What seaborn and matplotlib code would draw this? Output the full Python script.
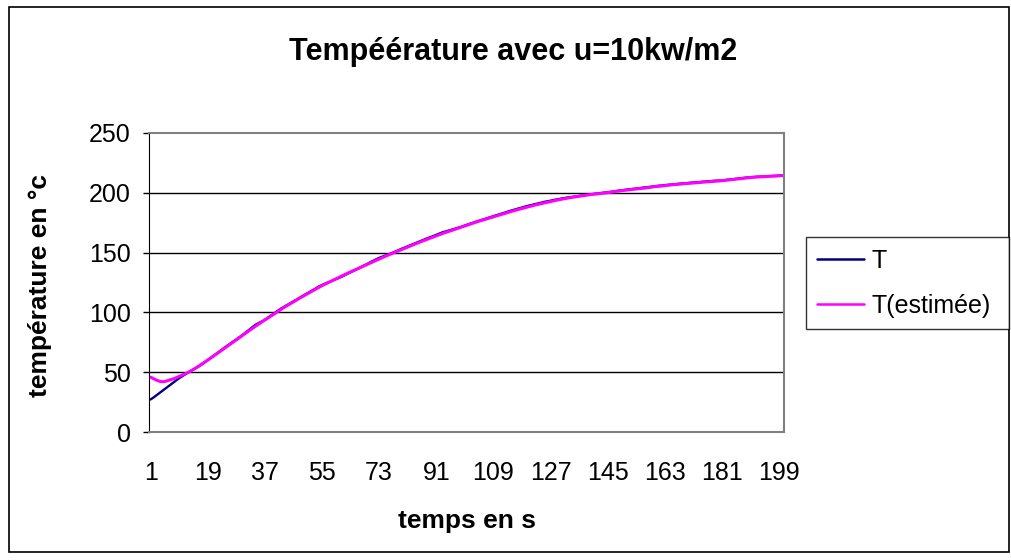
import matplotlib
matplotlib.use("Agg")
import matplotlib.pyplot as plt
import numpy as np
import pandas as pd
import seaborn as sns
from matplotlib.patches import Rectangle

# time steps 1..200 (category axis)
temps = list(range(1, 201))

# measured temperature T
t_mesure = [
    27.2, 29.0, 31.0, 33.0, 35.0, 36.9, 38.9, 40.9, 42.9, 45.0,
    46.7, 48.4, 50.1, 51.6, 53.1, 54.6, 56.3, 58.2, 60.1, 62.1,
    64.0, 66.0, 68.0, 70.0, 71.9, 73.7, 75.6, 77.4, 79.3, 81.2,
    83.3, 85.4, 87.5, 89.6, 91.0, 92.3, 93.8, 95.6, 97.5, 99.4,
    101.3, 103.1, 104.6, 106.1, 107.7, 109.2, 110.8, 112.3, 113.9, 115.4,
    117.0, 118.5, 120.0, 121.6, 122.9, 124.0, 125.1, 126.2, 127.3, 128.4,
    129.6, 130.9, 132.2, 133.5, 134.8, 136.1, 137.5, 138.9, 140.2, 141.6,
    143.0, 144.3, 145.6, 146.6, 147.6, 148.6, 149.6, 150.8, 151.9, 153.1,
    154.2, 155.4, 156.5, 157.5, 158.6, 159.6, 160.7, 161.8, 162.8, 163.8,
    164.9, 165.9, 167.0, 167.7, 168.5, 169.3, 170.1, 170.9, 171.7, 172.7,
    173.6, 174.5, 175.4, 176.3, 177.1, 177.9, 178.8, 179.6, 180.5, 181.3,
    182.1, 183.0, 183.8, 184.7, 185.5, 186.2, 187.0, 187.7, 188.5, 189.2,
    189.8, 190.5, 191.1, 191.7, 192.4, 192.9, 193.4, 194.0, 194.5, 195.0,
    195.5, 195.9, 196.3, 196.6, 197.0, 197.4, 197.8, 198.1, 198.5, 198.8,
    199.2, 199.5, 199.9, 200.2, 200.5, 200.8, 201.2, 201.6, 202.0, 202.3,
    202.7, 203.0, 203.3, 203.6, 203.9, 204.3, 204.6, 204.9, 205.2, 205.6,
    205.9, 206.1, 206.4, 206.7, 206.9, 207.2, 207.4, 207.7, 207.9, 208.1,
    208.4, 208.6, 208.8, 209.0, 209.3, 209.5, 209.7, 209.9, 210.1, 210.2,
    210.4, 210.7, 211.0, 211.3, 211.6, 211.9, 212.2, 212.5, 212.8, 213.1,
    213.2, 213.4, 213.5, 213.7, 213.8, 214.0, 214.1, 214.2, 214.4, 214.5,
]

# estimated temperature T(estimée)
t_estimee = [
    45.8, 44.5, 43.2, 42.3, 42.0, 42.6, 43.5, 44.3, 45.3, 46.5,
    47.7, 48.9, 50.0, 51.5, 53.1, 54.8, 56.5, 58.3, 60.1, 61.9,
    63.8, 65.7, 67.6, 69.5, 71.4, 73.3, 75.2, 77.1, 79.0, 80.9,
    82.8, 84.7, 86.6, 88.4, 90.2, 91.9, 93.6, 95.3, 97.0, 98.8,
    100.6, 102.4, 104.1, 105.7, 107.3, 108.9, 110.5, 112.0, 113.5, 115.0,
    116.5, 118.0, 119.5, 121.0, 122.4, 123.7, 125.0, 126.3, 127.6, 128.9,
    130.2, 131.5, 132.7, 133.9, 135.1, 136.3, 137.5, 138.7, 139.9, 141.1,
    142.3, 143.5, 144.7, 145.9, 147.0, 148.1, 149.2, 150.3, 151.4, 152.5,
    153.6, 154.7, 155.8, 156.9, 158.0, 159.0, 160.0, 161.0, 162.0, 163.0,
    164.0, 165.0, 166.0, 166.9, 167.8, 168.7, 169.6, 170.5, 171.4, 172.3,
    173.2, 174.1, 175.0, 175.9, 176.7, 177.5, 178.3, 179.1, 179.9, 180.7,
    181.5, 182.3, 183.1, 183.9, 184.7, 185.5, 186.2, 186.9, 187.6, 188.3,
    189.0, 189.7, 190.3, 190.9, 191.5, 192.1, 192.7, 193.3, 193.9, 194.4,
    194.9, 195.4, 195.9, 196.3, 196.7, 197.1, 197.5, 197.9, 198.3, 198.7,
    198.9, 199.2, 199.5, 199.8, 200.1, 200.5, 200.9, 201.3, 201.6, 202.0,
    202.3, 202.6, 202.9, 203.2, 203.5, 203.8, 204.1, 204.4, 204.8, 205.2,
    205.4, 205.7, 206.0, 206.3, 206.6, 206.9, 207.1, 207.3, 207.6, 207.8,
    208.0, 208.2, 208.4, 208.6, 208.9, 209.1, 209.3, 209.5, 209.7, 209.9,
    210.1, 210.4, 210.7, 211.0, 211.3, 211.6, 211.9, 212.2, 212.5, 212.8,
    213.0, 213.2, 213.3, 213.5, 213.6, 213.8, 213.9, 214.0, 214.2, 214.4,
]

series_names = ["T", "T(estimée)"]
series_colors = ["#000080", "#FF00FF"]
x_tick_labels = [str(v) for v in temps[::18]]
y_ticks = [0, 50, 100, 150, 200, 250]

sns.set_style("white")
plt.rcParams["font.family"] = ["Liberation Sans", "DejaVu Sans"]
plt.rcParams["text.color"] = "black"
plt.rcParams["axes.labelcolor"] = "black"
plt.rcParams["xtick.color"] = "black"
plt.rcParams["ytick.color"] = "black"

df = pd.DataFrame({
    "pos": list(range(len(temps))) * 2,
    "valeur": t_mesure + t_estimee,
    "serie": [series_names[0]] * len(temps) + [series_names[1]] * len(temps),
})

W, H = 1011, 560
fig = plt.figure(figsize=(W / 100, H / 100), dpi=100)
ax = fig.add_axes([149 / W, 1 - 432 / H, (784 - 149) / W, (432 - 133) / H])

sns.lineplot(data=df, x="pos", y="valeur", hue="serie", hue_order=series_names,
             palette=series_colors, ax=ax, legend=False)
for line, lw in zip(ax.lines, [1.7, 2.2]):
    line.set_linewidth(lw)

ax.set_xlim(-0.5, len(temps) - 0.5)
ax.set_ylim(0, 250)
ax.set_yticks(y_ticks)
ax.set_yticklabels([str(v) for v in y_ticks], fontsize=18)
ax.set_xticks(list(range(0, len(temps), 18)))
ax.set_xticklabels(x_tick_labels, fontsize=18)
ax.tick_params(axis="x", length=0, pad=21)
ax.tick_params(axis="y", length=4, width=1, color="black", pad=9, left=True)

for v in y_ticks[1:-1]:
    ax.axhline(v, color="black", linewidth=1, zorder=0)

for side in ["top", "right", "bottom"]:
    ax.spines[side].set_color("#808080")
    ax.spines[side].set_linewidth(1.5)
ax.spines["left"].set_color("black")

ax.set_xlabel("temps en s", fontsize=19, fontweight="bold")
ax.xaxis.set_label_coords(0.5, (432 - 521) / 299)
ax.xaxis.label.set_va("center")
ax.set_ylabel("température en °c", fontsize=19, fontweight="bold")
ax.yaxis.set_label_coords((40 - 149) / 635, 0.49)
ax.yaxis.label.set_va("center")

fig.text(0.508, 1 - 52 / H, "Tempéérature avec u=10kw/m2", ha="center", va="center",
         fontsize=22, fontweight="bold", color="black")

# legend box outside on the right, running to the outer frame
handles = [plt.Line2D([], [], color=c, linewidth=1.8) for c in series_colors]
leg = fig.legend(handles, series_names, loc="upper left",
                 bbox_to_anchor=(806 / W, 1 - 238 / H, (1009 - 806) / W, 0.001),
                 mode="expand", fontsize=18,
                 frameon=True, fancybox=False, edgecolor="black",
                 handlelength=1.85, handletextpad=0.3, labelspacing=0.85,
                 borderpad=0.45, borderaxespad=0)
leg.get_frame().set_linewidth(1)
for txt in leg.get_texts():
    txt.set_color("black")

# outer chart border
fig.patches.append(Rectangle((9 / W, 8 / H), 1000 / W, 545 / H,
                             transform=fig.transFigure, fill=False,
                             edgecolor="black", linewidth=1.2))

fig.savefig("out.png", dpi=100)
